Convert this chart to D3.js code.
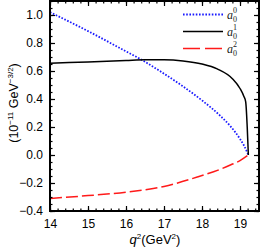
<!DOCTYPE html>
<html>
<head>
<meta charset="utf-8">
<script src="https://cdn.jsdelivr.net/npm/d3@7"></script>
<style>
  body { margin: 0; background: #fff; }
  svg { display: block; }
</style>
</head>
<body>
<div id="chart"></div>
<script>
// q^2 values (GeV^2) and amplitudes
const q2A0 = [14.0, 15.0, 16.0, 16.41, 16.89, 17.5, 18.0, 18.5, 18.75, 19.0, 19.1, 19.22];
const a0 = [1.02, 0.885, 0.74, 0.68, 0.60, 0.49, 0.39, 0.275, 0.205, 0.115, 0.07, 0.0];

const q2A1 = [14.0, 15.0, 16.0, 16.5, 17.0, 17.5, 18.0, 18.4, 18.8, 19.0, 19.1, 19.15, 19.19, 19.22];
const a1 = [0.655, 0.665, 0.675, 0.68, 0.68, 0.672, 0.65, 0.615, 0.545, 0.475, 0.42, 0.38, 0.2, 0.0];

const q2A2 = [14.0, 15.0, 16.0, 17.0, 17.9, 18.5, 18.76, 19.0, 19.22];
const a2 = [-0.31, -0.29, -0.266, -0.225, -0.155, -0.1, -0.07, -0.04, 0.0];

const xTicks = [14, 15, 16, 17, 18, 19];
const yTicks = [-0.4, -0.2, 0.0, 0.2, 0.4, 0.6, 0.8, 1.0];

const width = 262, height = 249;
const mLeft = 50, mRight = 259, mTop = 1, mBottom = 211;

const svg = d3.select("#chart")
  .append("svg")
    .attr("width", width)
    .attr("height", height)
    .style("font-family", "'Liberation Sans', Arial, sans-serif");

const xScale = d3.scaleLinear().domain([14, 19.5]).range([mLeft, mRight]);
const yScale = d3.scaleLinear().domain([-0.4, 1.1]).range([mBottom, mTop]);

// curves
const line = d3.line()
  .x(d => xScale(d[0]))
  .y(d => yScale(d[1]))
  .curve(d3.curveMonotoneX);

const series = [
  { x: q2A0, y: a0, color: "#1a1aff", dash: "1.6,1.6", sup: "0" },
  { x: q2A1, y: a1, color: "#000000", dash: null, sup: "1" },
  { x: q2A2, y: a2, color: "#ff1a1a", dash: "12,4", sup: "2" }
];

const plot = svg.append("g");

plot.selectAll("path.curve")
  .data(series)
  .join("path")
    .attr("class", "curve")
    .attr("d", s => line(s.x.map((v, i) => [v, s.y[i]])))
    .attr("fill", "none")
    .attr("stroke", s => s.color)
    .attr("stroke-width", s => s.dash === "1.6,1.6" ? 1.8 : 1.5)
    .attr("stroke-dasharray", s => s.dash);

// axes with inward ticks on all four sides
const xMinor = d3.range(14, 19.5001, 0.2);
const yMinor = d3.range(-0.4, 1.1001, 0.05);

const axB = d3.axisBottom(xScale).tickValues(xTicks).tickSizeInner(-5).tickSizeOuter(0).tickPadding(8)
  .tickFormat(d3.format("d"));
const axT = d3.axisTop(xScale).tickValues(xTicks).tickSizeInner(-5).tickSizeOuter(0).tickFormat("");
const axL = d3.axisLeft(yScale).tickValues(yTicks).tickSizeInner(-5).tickSizeOuter(0).tickPadding(7)
  .tickFormat(d => d3.format(".1f")(d).replace("-", "\u2212"));
const axR = d3.axisRight(yScale).tickValues(yTicks).tickSizeInner(-5).tickSizeOuter(0).tickFormat("");

const mB = d3.axisBottom(xScale).tickValues(xMinor).tickSize(-2.5).tickFormat("");
const mT = d3.axisTop(xScale).tickValues(xMinor).tickSize(-2.5).tickFormat("");
const mL = d3.axisLeft(yScale).tickValues(yMinor).tickSize(-2.5).tickFormat("");
const mR = d3.axisRight(yScale).tickValues(yMinor).tickSize(-2.5).tickFormat("");

const axes = [
  [mB, `translate(0,${mBottom})`], [mT, `translate(0,${mTop})`],
  [mL, `translate(${mLeft},0)`], [mR, `translate(${mRight},0)`],
  [axB, `translate(0,${mBottom})`], [axT, `translate(0,${mTop})`],
  [axL, `translate(${mLeft},0)`], [axR, `translate(${mRight},0)`]
];
axes.forEach(([ax, tr]) => {
  const g = svg.append("g").attr("transform", tr).call(ax);
  g.select(".domain").remove();
  g.selectAll("line").attr("stroke", "#000").attr("stroke-width", 1.2);
  g.selectAll("text").attr("fill", "#000").style("font-size", "12px");
});

// frame
svg.append("rect")
  .attr("x", mLeft)
  .attr("y", mTop)
  .attr("width", mRight - mLeft)
  .attr("height", mBottom - mTop)
  .attr("fill", "none")
  .attr("stroke", "#000")
  .attr("stroke-width", 2);

// legend
const legend = svg.append("g");
const legendRows = legend.selectAll("g")
  .data(series)
  .join("g")
    .attr("transform", (d, i) => `translate(0, ${14.5 + i * 17})`);

legendRows.append("line")
  .attr("x1", 183)
  .attr("x2", 223)
  .attr("stroke", d => d.color)
  .attr("stroke-width", d => d.dash === "1.6,1.6" ? 1.8 : 1.5)
  .attr("stroke-dasharray", d => d.dash === "12,4" ? "17,5" : d.dash);

const lt = legendRows.append("text")
  .attr("x", 227)
  .attr("y", 4)
  .attr("fill", "#222")
  .style("font-family", "'Liberation Serif', 'DejaVu Serif', serif")
  .style("font-size", "12px")
  .style("font-style", "italic");
lt.append("tspan").text("a");
lt.append("tspan").attr("dy", 3).style("font-size", "8px").style("font-style", "normal").text("0");
lt.append("tspan").attr("dx", -4).attr("dy", -9).style("font-size", "8px").style("font-style", "normal").text(d => d.sup);

// axis titles
const xt = svg.append("text")
  .attr("x", 155)
  .attr("y", 244)
  .attr("text-anchor", "middle")
  .style("font-size", "13px");
xt.append("tspan").style("font-style", "italic").text("q");
xt.append("tspan").attr("dy", -5).style("font-size", "8px").text("2");
xt.append("tspan").attr("dy", 5).text("(GeV");
xt.append("tspan").attr("dy", -5).style("font-size", "8px").text("2");
xt.append("tspan").attr("dy", 5).text(")");

const yt = svg.append("text")
  .attr("transform", "translate(18,103) rotate(-90)")
  .attr("text-anchor", "middle")
  .style("font-size", "12.5px");
yt.append("tspan").text("(10");
yt.append("tspan").attr("dy", -5).style("font-size", "8px").text("\u221211");
yt.append("tspan").attr("dy", 5).text(" GeV");
yt.append("tspan").attr("dy", -5).style("font-size", "8px").text("\u22123/2");
yt.append("tspan").attr("dy", 5).text(")");
</script>
</body>
</html>
